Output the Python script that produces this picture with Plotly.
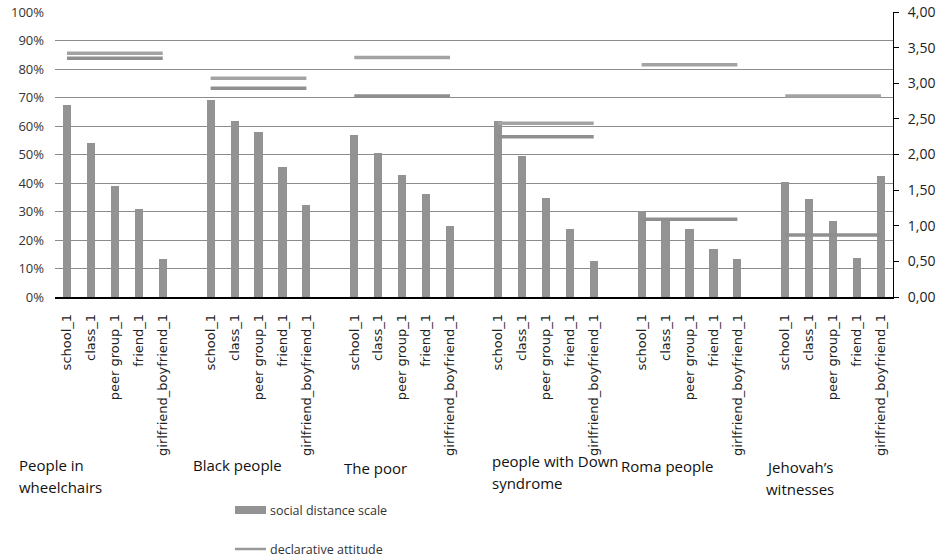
import plotly.graph_objects as go

groups = ["People in<br>wheelchairs", "Black people", "The poor",
          "people with Down<br>syndrome", "Roma people", "Jehovah’s<br>witnesses"]
items = ["school_1", "class_1", "peer group_1", "friend_1", "girlfriend_boyfriend_1"]

# social distance scale (%), per group, per item
wheelchairs = [67.5, 54.1, 39.0, 30.9, 13.3]
black = [69.3, 61.9, 58.0, 45.7, 32.3]
poor = [56.9, 50.6, 42.8, 36.2, 24.9]
down = [61.8, 49.6, 34.8, 23.8, 12.6]
roma = [30.2, 27.5, 23.8, 16.8, 13.3]
jehovah = [40.4, 34.4, 26.7, 13.6, 42.5]
bars = [wheelchairs, black, poor, down, roma, jehovah]

# declarative attitude (right axis 0-4), two measures per group
attitude_a = [3.42, 3.07, 3.36, 2.44, 3.26, 2.82]
attitude_b = [3.35, 2.93, 2.82, 2.25, 1.09, 0.87]

L, R, T, B = 55, 893, 12, 297
W, H = 947, 560

xs, ys, ticktext = [], [], []
la_x, la_y, lb_x, lb_y = [], [], [], []
for g, vals in enumerate(bars):
    for i, v in enumerate(vals):
        p = g * 6 + i
        xs.append(p)
        ys.append(v)
        ticktext.append(items[i])
        la_x.append(p); la_y.append(attitude_a[g])
        lb_x.append(p); lb_y.append(attitude_b[g])
    if g < len(bars) - 1:
        la_x.append(g * 6 + 5); la_y.append(None)
        lb_x.append(g * 6 + 5); lb_y.append(None)

fig = go.Figure()
fig.add_trace(go.Bar(x=xs, y=ys, width=0.34, marker=dict(color="#939393", line_width=0),
                     name="social distance scale", showlegend=False))
fig.add_trace(go.Scatter(x=la_x, y=la_y, yaxis="y2", mode="lines", connectgaps=False,
                         line=dict(color="#a3a3a3", width=3.5), name="declarative attitude",
                         showlegend=False))
fig.add_trace(go.Scatter(x=lb_x, y=lb_y, yaxis="y2", mode="lines", connectgaps=False,
                         line=dict(color="#8f8f8f", width=3.5), name="declarative attitude",
                         showlegend=False))

def px(X):
    return (X - L) / (R - L)

def py(Y):
    return (B - Y) / (B - T)

ann = []
label_pos = [(17, 465), (191, 465), (342, 468), (490, 461), (619, 466), (764, 467)]
for text, (X, Y) in zip(groups, label_pos):
    for k, line in enumerate(text.split("<br>")):
        ann.append(dict(text=line, xref="paper", yref="paper", x=px(X), y=py(Y + k * 22),
                        xanchor="left", yanchor="middle", align="left", showarrow=False,
                        font=dict(family="Open Sans", size=15, color="#111")))
ann.append(dict(text="social distance scale", xref="paper", yref="paper", x=px(268), y=py(510),
                xanchor="left", yanchor="middle", showarrow=False,
                font=dict(family="Open Sans", size=12.5, color="#333")))
ann.append(dict(text="declarative attitude", xref="paper", yref="paper", x=px(268), y=py(549),
                xanchor="left", yanchor="middle", showarrow=False,
                font=dict(family="Open Sans", size=12.5, color="#333")))
shapes = [
    dict(type="rect", xref="paper", yref="paper", x0=px(235), x1=px(266), y0=py(506), y1=py(514),
         fillcolor="#939393", line_width=0),
    dict(type="line", xref="paper", yref="paper", x0=px(235), x1=px(266), y0=py(549), y1=py(549),
         line=dict(color="#999999", width=2.5)),
]

fig.update_layout(
    width=W, height=H,
    margin=dict(l=L, r=W - R, t=T, b=H - B, autoexpand=False),
    plot_bgcolor="white", paper_bgcolor="white",
    separators=",.",
    bargap=0,
    xaxis=dict(range=[-0.5, 34.5], tickvals=xs, ticktext=ticktext, tickangle=-90,
               showgrid=False, showline=True, linecolor="black", linewidth=1.5,
               ticks="", ticklabelstandoff=10, zeroline=False, automargin=False,
               tickfont=dict(family="DejaVu Sans", size=13, color="#222")),
    yaxis=dict(range=[0, 100], dtick=10, ticksuffix="%", showgrid=True,
               gridcolor="#8c8c8c", gridwidth=1, zeroline=False, showline=False,
               ticklabelstandoff=10, automargin=False,
               tickfont=dict(family="Open Sans", size=13, color="#333")),
    yaxis2=dict(range=[0, 4], dtick=0.5, tickformat=".2f", overlaying="y", side="right",
                showgrid=False, zeroline=False, showline=True, linecolor="black", linewidth=1,
                ticks="outside", ticklen=5, tickcolor="black", ticklabelstandoff=6,
                automargin=False,
                tickfont=dict(family="Open Sans", size=14, color="#222")),
    annotations=ann, shapes=shapes,
)
fig.write_html("out.html")
